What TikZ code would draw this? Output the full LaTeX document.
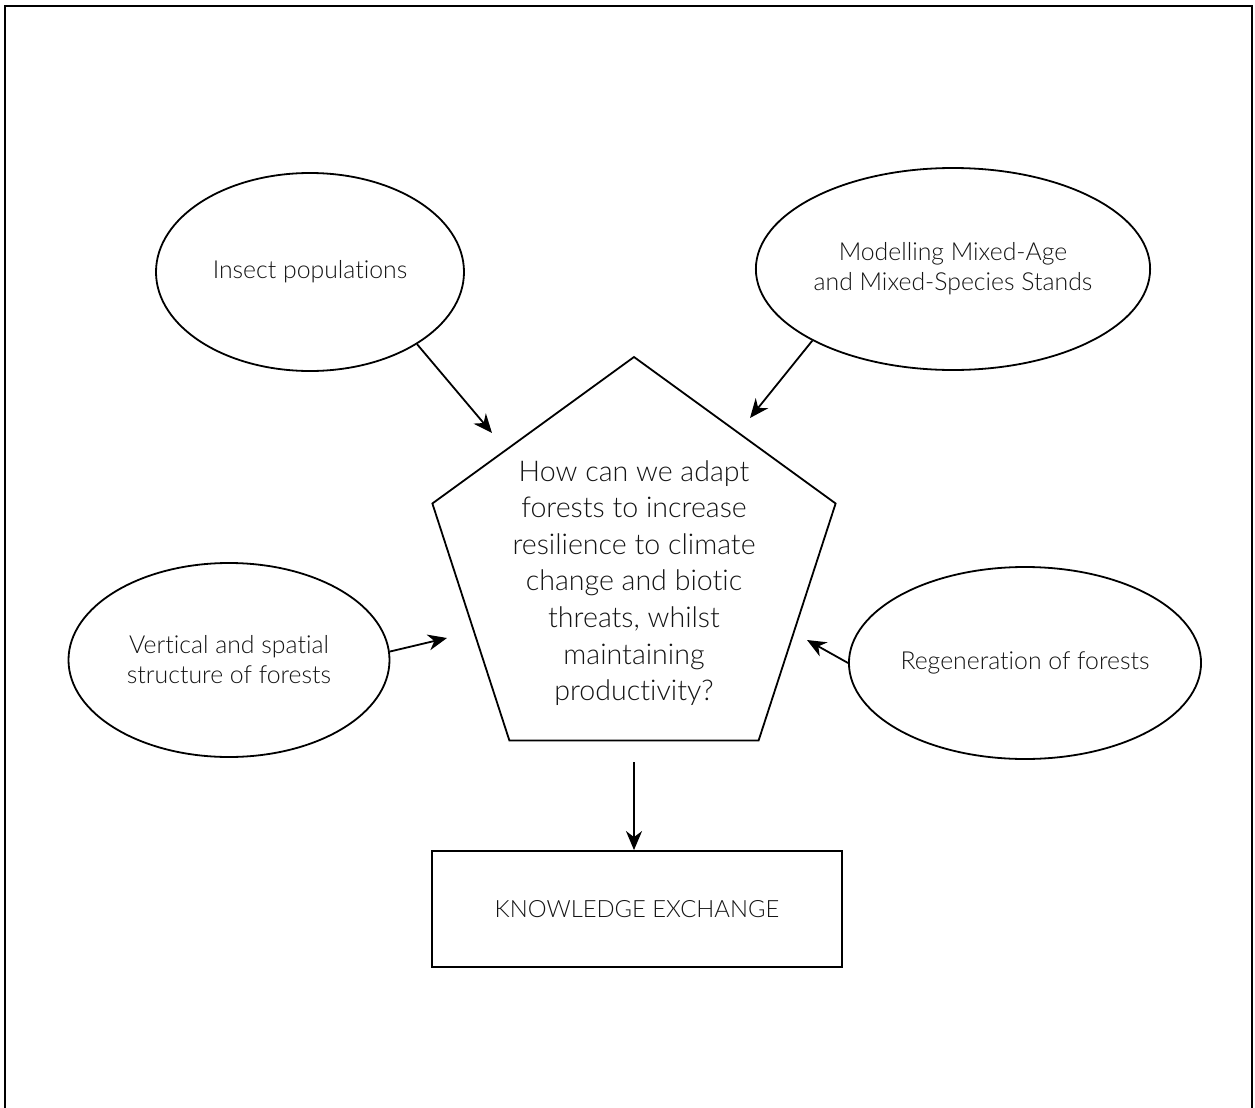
\documentclass[tikz,border=0pt]{standalone}
\usepackage{fontspec}
\setmainfont{Lato Light}[Ligatures={NoCommon,NoDiscretionary,NoRare}]
\usetikzlibrary{shapes.geometric,arrows.meta}
\begin{document}
\begin{tikzpicture}[x=0.5pt,y=-0.5pt,
  every node/.style={text=black!92, font=\fontsize{12.4}{15}\selectfont},
  bubble/.style={draw, line width=0.9pt, ellipse, inner sep=0pt, align=center},
  arr/.style={line width=0.9pt, -{Stealth[length=9.5pt,width=8pt,inset=3pt]}},
]
\useasboundingbox (0,0) rectangle (1255,1108);
\draw[line width=1.3pt] (5,1108) -- (5,6) -- (1252,6) -- (1252,1108);

\node[bubble, minimum width=154pt, minimum height=99pt] (ins) at (310,272) {Insect populations};
\node[bubble, minimum width=163pt, minimum height=101pt] (mod) at (953,269) {Modelling Mixed-Age\\and Mixed-Species Stands};
\node[bubble, minimum width=160.5pt, minimum height=97pt] (ver) at (229,660) {Vertical and spatial\\structure of forests};
\node[bubble, minimum width=154pt, minimum height=96pt] (reg) at (1025,663) {Regeneration of forests};

\node[draw, line width=0.9pt, regular polygon, regular polygon sides=5, minimum size=212pt, inner sep=0pt] (pent) at (634,569) {};
\node[align=center, font=\fontsize{14.3}{18.3}\selectfont] (q) at (634,583) {How can we adapt\\forests to increase\\resilience to climate\\change and biotic\\threats, whilst\\maintaining\\productivity?};

\node[draw, line width=0.9pt, minimum width=205pt, minimum height=58pt, inner sep=0pt, font=\fontsize{11.9}{14}\selectfont] (ke) at (637,909) {KNOWLEDGE EXCHANGE};

\coordinate (tIns) at (492,433);
\coordinate (tMod) at (750,418);
\coordinate (tVer) at (447,638);
\coordinate (tReg) at (807,640);
\draw[arr] (ins.-34) -- (tIns);
\draw[arr] (mod.207) -- (tMod);
\draw[arr] (ver.3) -- (tVer);
\draw[arr] (reg.180) -- (tReg);
\draw[arr] ([yshift=-10.5pt]pent.south) -- (pent.south |- ke.north);
\end{tikzpicture}
\end{document}
